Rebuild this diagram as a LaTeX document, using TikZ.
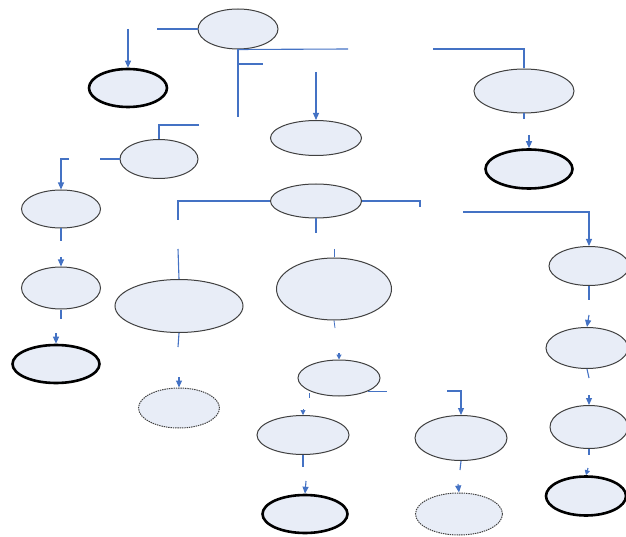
\documentclass[tikz,border=0pt]{standalone}
\usetikzlibrary{shapes.geometric,arrows.meta}
\definecolor{nodefill}{HTML}{E8EDF7}
\definecolor{linkblue}{HTML}{4472C4}
\definecolor{rim}{HTML}{404040}
\begin{document}
\begin{tikzpicture}[x=1pt,y=-1pt,
  oval/.style={ellipse, draw=rim, line width=1pt, fill=nodefill, inner sep=0pt},
  endoval/.style={oval, draw=black, line width=2.6pt},
  openoval/.style={oval, draw=rim, dash pattern=on 1.4pt off 0.9pt, line width=1pt},
  link/.style={draw=linkblue, line width=1.1pt},
  arr/.style={link, -{Triangle[width=6pt,length=7pt]}},
  tinyarr/.style={link, -{Triangle[width=5pt,length=5pt]}},
]
\useasboundingbox (0,0) rectangle (626,537);

% ---- ovals ----
\node[oval, minimum width=80, minimum height=40] (top) at (238,29) {};
\node[endoval, minimum width=78, minimum height=38] (endA) at (128,88) {};
\node[oval, minimum width=100, minimum height=44] (rt) at (524,91) {};
\node[endoval, minimum width=87, minimum height=39] (endB) at (529,169) {};
\node[oval, minimum width=91, minimum height=35] (mid) at (316,138) {};
\node[oval, minimum width=78, minimum height=39] (lft) at (159,159) {};
\node[oval, minimum width=91, minimum height=34] (hub) at (316,201) {};
\node[oval, minimum width=79, minimum height=38] (l1) at (61,209) {};
\node[oval, minimum width=79, minimum height=42] (l2) at (61,288) {};
\node[endoval, minimum width=87, minimum height=38] (endC) at (56,364) {};
\node[oval, minimum width=128, minimum height=53] (big) at (179,306) {};
\node[oval, minimum width=115, minimum height=62] (wide) at (334,289) {};
\node[openoval, minimum width=81, minimum height=40] (openA) at (179,408) {};
\node[oval, minimum width=82, minimum height=36] (sm) at (339,378) {};
\node[oval, minimum width=92, minimum height=39] (b1) at (303,435) {};
\node[endoval, minimum width=85, minimum height=38] (endD) at (305,514) {};
\node[oval, minimum width=92, minimum height=45] (b2) at (461,438) {};
\node[openoval, minimum width=87, minimum height=42] (openB) at (459,514) {};
\node[oval, minimum width=80, minimum height=39] (r1) at (589,266) {};
\node[oval, minimum width=82, minimum height=41] (r2) at (587,348) {};
\node[oval, minimum width=78, minimum height=43] (r3) at (589,427) {};
\node[endoval, minimum width=80, minimum height=39] (endE) at (586,496) {};

% ---- loose connector ends ----
\coordinate (c1) at (157,29);
\coordinate (c2) at (128,29);
\coordinate (c3) at (238,117);
\coordinate (c4) at (348,49);
\coordinate (c5) at (263,64);
\coordinate (c6) at (316,72);
\coordinate (c7) at (433,49);
\coordinate (c8) at (524,119);
\coordinate (c9) at (529,135);
\coordinate (c10) at (199,125);
\coordinate (c11) at (100,159);
\coordinate (c12) at (69,159);
\coordinate (c13) at (61,241);
\coordinate (c14) at (61,257);
\coordinate (c15) at (61,319);
\coordinate (c16) at (56,333);
\coordinate (c17) at (178,220);
\coordinate (c18) at (178,249);
\coordinate (c19) at (178,347);
\coordinate (c20) at (179,377);
\coordinate (c21) at (420,207);
\coordinate (c22) at (463,212);
\coordinate (c23) at (316,233);
\coordinate (c24) at (334,249);
\coordinate (c25) at (335,328);
\coordinate (c26) at (339,353);
\coordinate (c27) at (387,391);
\coordinate (c28) at (447,391);
\coordinate (c29a) at (309,393);
\coordinate (c29b) at (309,398);
\coordinate (c30) at (303,409);
\coordinate (c31) at (303,467);
\coordinate (c32) at (306,481);
\coordinate (c33) at (460,470);
\coordinate (c34) at (458,484);
\coordinate (c35) at (589,300);
\coordinate (c36) at (589,315);
\coordinate (c37) at (589,378);
\coordinate (c38) at (589,395);
\coordinate (c39) at (589,455);
\coordinate (c40) at (588,468);

% ---- connectors ----
\draw[link] (top.west) -- (c1);
\draw[arr] (c2) -- (endA.north);
\draw[link] (top.south) -- (c3);
\draw[link] (top.south) -- (c4);
\draw[link] (top.south |- c5) -- (c5);
\draw[arr] (c6) -- (mid.north);
\draw[link] (c7) -| (rt.north);
\draw[link] (rt.south) -- (c8);
\draw[arr] (c9) -- (endB.north);
\draw[link] (c10) -| (lft.north);
\draw[link] (lft.west) -- (c11);
\draw[arr] (c12) -| (l1.north);
\draw[link] (l1.south) -- (c13);
\draw[arr] (c14) -- (l2.north);
\draw[link] (l2.south) -- (c15);
\draw[arr] (c16) -- (endC.north);
\draw[link] (hub.west) -| (c17);
\draw[link] (c18) -- (big.north);
\draw[link] (big.south) -- (c19);
\draw[arr] (c20) -- (openA.north);
\draw[link] (hub.east) -| (c21);
\draw[arr] (c22) -| (r1.north);
\draw[link] (hub.south) -- (c23);
\draw[link, line width=0.8pt] (c24) -- (wide.north);
\draw[link, line width=0.8pt] (wide.south) -- (c25);
\draw[tinyarr] (c26) -- (sm.north);
\draw[link] (sm.-25) -- (sm.-25 -| c27);
\draw[arr] (c28) -| (b2.north);
\draw[link, line width=0.8pt] (c29a) -- (c29b);
\draw[tinyarr, line width=0.6pt] (c30) -- (b1.north);
\draw[link] (b1.south) -- (c31);
\draw[arr] (c32) -- (endD.north);
\draw[link] (b2.south) -- (c33);
\draw[arr] (c34) -- (openB.north);
\draw[link] (r1.south) -- (c35);
\draw[arr] (c36) -- (r2.north);
\draw[link] (r2.south) -- (c37);
\draw[arr] (c38) -- (r3.north);
\draw[link] (r3.south) -- (c39);
\draw[tinyarr] (c40) -- (endE.north);
\end{tikzpicture}
\end{document}
